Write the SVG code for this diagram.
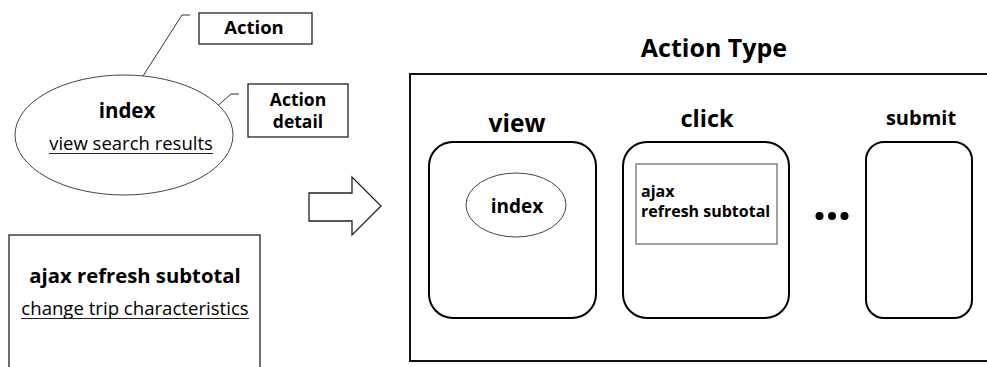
<svg xmlns="http://www.w3.org/2000/svg" width="987" height="367" viewBox="0 0 987 367">
<style>
text{font-family:"Open Sans","Noto Sans",sans-serif;fill:#000}
.b{font-weight:bold}
.box{fill:#fff;stroke:#222;stroke-width:1.3}
.thin{fill:#fff;stroke:#444;stroke-width:1}
.rr{fill:#fff;stroke:#000;stroke-width:2}
.ln{fill:none;stroke:#333;stroke-width:1}
.ul{stroke:#222;stroke-width:1}
</style>
<rect width="987" height="367" fill="#fff"/>
<g id="connectors">
<polyline class="ln" points="190,15 182,15 134,90"/>
<polyline class="ln" points="239,94 231,94 188,132"/>
</g>
<g id="action-label">
<rect class="box" x="199" y="13" width="113" height="31"/>
<text class="b" x="254" y="34" font-size="18.5" text-anchor="middle">Action</text>
</g>
<g id="action-detail-label">
<rect class="box" x="248" y="84" width="100" height="53"/>
<text class="b" font-size="17.5" text-anchor="middle"><tspan x="298" y="105.5">Action</tspan><tspan x="298" y="127.5">detail</tspan></text>
</g>
<g id="index-node">
<ellipse class="thin" cx="124" cy="135" rx="109" ry="60"/>
<text class="b" x="127" y="118" font-size="20.5" text-anchor="middle">index</text>
<text x="131" y="150" font-size="18.5" text-anchor="middle">view search results</text>
<line class="ul" x1="49" y1="153.5" x2="213" y2="153.5"/>
</g>
<g id="ajax-node">
<rect class="box" x="9" y="235" width="251" height="140"/>
<text class="b" x="135" y="283" font-size="20.3" text-anchor="middle">ajax refresh subtotal</text>
<text x="135" y="315" font-size="18.6" text-anchor="middle">change trip characteristics</text>
<line class="ul" x1="21" y1="318.5" x2="249" y2="318.5"/>
</g>
<g id="block-arrow">
<polygon points="309,193 352,193 352,177 381,206 352,235 352,221 309,221" fill="#fff" stroke="#222" stroke-width="1.3"/>
</g>
<g id="action-type">
<text class="b" x="714" y="57" font-size="25" text-anchor="middle">Action Type</text>
<rect x="410" y="74" width="600" height="287" fill="#fff" stroke="#111" stroke-width="2"/>
</g>
<g id="view-group">
<text class="b" x="517" y="132" font-size="24.5" text-anchor="middle">view</text>
<rect class="rr" x="429" y="142" width="167" height="176" rx="24" ry="24"/>
<ellipse class="thin" cx="516" cy="205" rx="50" ry="32"/>
<text class="b" x="517" y="213" font-size="19" text-anchor="middle">index</text>
</g>
<g id="click-group">
<text class="b" x="707" y="127" font-size="23.5" text-anchor="middle">click</text>
<rect class="rr" x="623" y="142" width="166" height="176" rx="24" ry="24"/>
<rect class="thin" x="636" y="164" width="141" height="80"/>
<text class="b" font-size="16"><tspan x="641" y="197">ajax</tspan><tspan x="641" y="217">refresh subtotal</tspan></text>
</g>
<g id="ellipsis">
<circle cx="819.5" cy="216" r="4" fill="#000"/>
<circle cx="832" cy="216" r="4" fill="#000"/>
<circle cx="844.5" cy="216" r="4" fill="#000"/>
</g>
<g id="submit-group">
<text class="b" x="921" y="125" font-size="20" text-anchor="middle">submit</text>
<rect class="rr" x="866" y="142" width="106" height="176" rx="18" ry="18"/>
</g>
</svg>
